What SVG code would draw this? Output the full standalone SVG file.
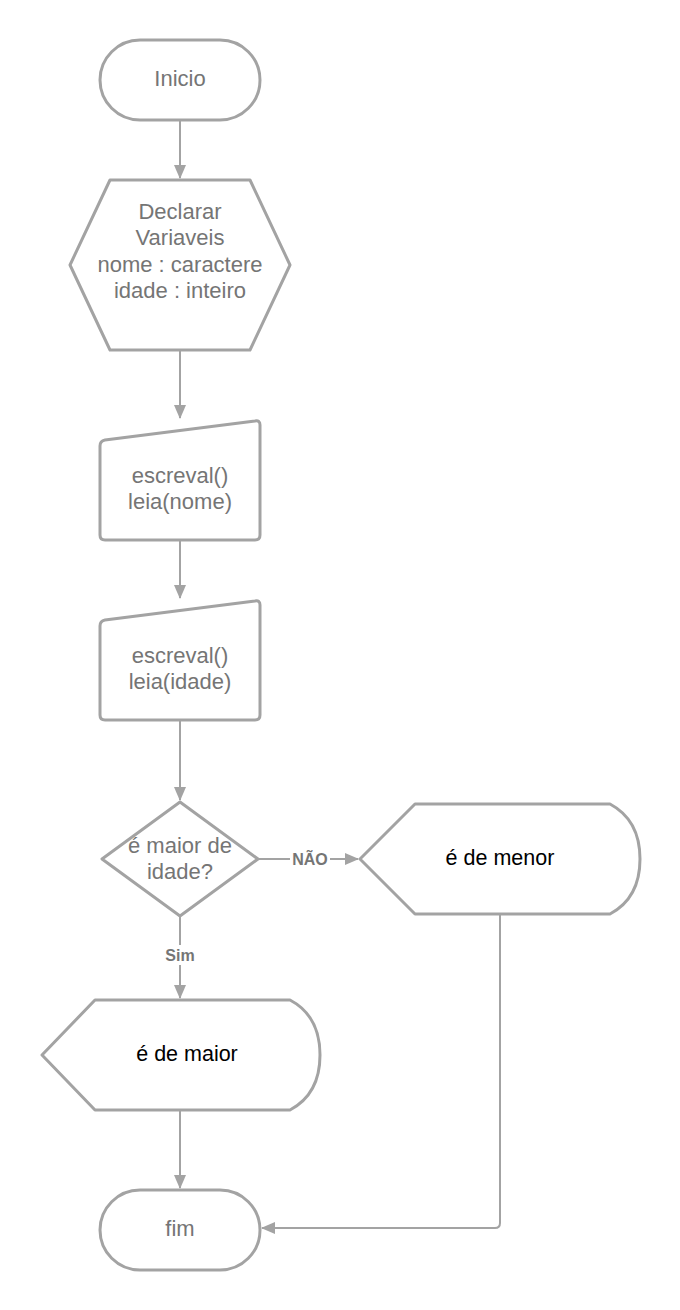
<svg xmlns="http://www.w3.org/2000/svg" width="680" height="1310" viewBox="0 0 680 1310">
<style>
.s{fill:#ffffff;stroke:#a3a3a3;stroke-width:3;stroke-linejoin:round}
.t{font-family:"Liberation Sans",Arial,sans-serif;font-size:22px;fill:#757575;text-anchor:middle}
.k{fill:#000000;font-size:21.5px}
.c{fill:none;stroke:#a3a3a3;stroke-width:2}
.l{font-family:"Liberation Sans",Arial,sans-serif;font-size:16px;font-weight:bold;fill:#757575;text-anchor:middle}
</style>
<defs>
<marker id="a" markerWidth="14" markerHeight="12" refX="13" refY="6" orient="auto" markerUnits="userSpaceOnUse">
<path d="M0,0 L14,6 L0,12 z" fill="#a3a3a3"/>
</marker>
</defs>
<rect width="680" height="1310" fill="#ffffff"/>
<g id="connectors">
<path class="c" d="M180,120 V178" marker-end="url(#a)"/>
<path class="c" d="M180,350 V418" marker-end="url(#a)"/>
<path class="c" d="M180,540 V598" marker-end="url(#a)"/>
<path class="c" d="M180,720 V800" marker-end="url(#a)"/>
<path class="c" d="M258,859 H358" marker-end="url(#a)"/>
<path class="c" d="M180,916 V998" marker-end="url(#a)"/>
<path class="c" d="M180,1110 V1188" marker-end="url(#a)"/>
<path class="c" d="M500,914 V1223 Q500,1228 495,1228 H262" marker-end="url(#a)"/>
<rect x="290" y="850" width="40" height="18" fill="#ffffff"/>
<text class="l" x="310" y="865">NÃO</text>
<rect x="162" y="945" width="36" height="20" fill="#ffffff"/>
<text class="l" x="180" y="961">Sim</text>
</g>
<g id="inicio">
<rect class="s" x="100" y="40" width="160" height="80" rx="40" ry="40"/>
<text class="t" x="180" y="86">Inicio</text>
</g>
<g id="declarar">
<path class="s" d="M110,180 H250 L290,265 L250,350 H110 L70,265 Z"/>
<text class="t" x="180" y="219">Declarar</text>
<text class="t" x="180" y="245">Variaveis</text>
<text class="t" x="180" y="272">nome : caractere</text>
<text class="t" x="180" y="298">idade : inteiro</text>
</g>
<g id="leia-nome">
<path class="s" d="M100,446 Q100,441 105,440 L255,421 Q260,420 260,425 V535 Q260,540 255,540 H105 Q100,540 100,535 Z"/>
<text class="t" x="180" y="483">escreval()</text>
<text class="t" x="180" y="509">leia(nome)</text>
</g>
<g id="leia-idade">
<path class="s" d="M100,626 Q100,621 105,620 L255,601 Q260,600 260,605 V715 Q260,720 255,720 H105 Q100,720 100,715 Z"/>
<text class="t" x="180" y="663">escreval()</text>
<text class="t" x="180" y="689">leia(idade)</text>
</g>
<g id="decisao">
<path class="s" d="M180,802 L258,859 L180,916 L102,859 Z"/>
<text class="t" x="180" y="853">é maior de</text>
<text class="t" x="180" y="879">idade?</text>
</g>
<g id="menor">
<path class="s" d="M415,804 H610 Q640,820 640,859 Q640,898 610,914 H415 L360,859 Z"/>
<text class="t k" x="500" y="865">é de menor</text>
</g>
<g id="maior">
<path class="s" d="M95,1000 H290 Q320,1016 320,1055 Q320,1094 290,1110 H95 L42,1055 Z"/>
<text class="t k" x="187" y="1061">é de maior</text>
</g>
<g id="fim">
<rect class="s" x="100" y="1190" width="160" height="80" rx="40" ry="40"/>
<text class="t" x="180" y="1236">fim</text>
</g>
</svg>
